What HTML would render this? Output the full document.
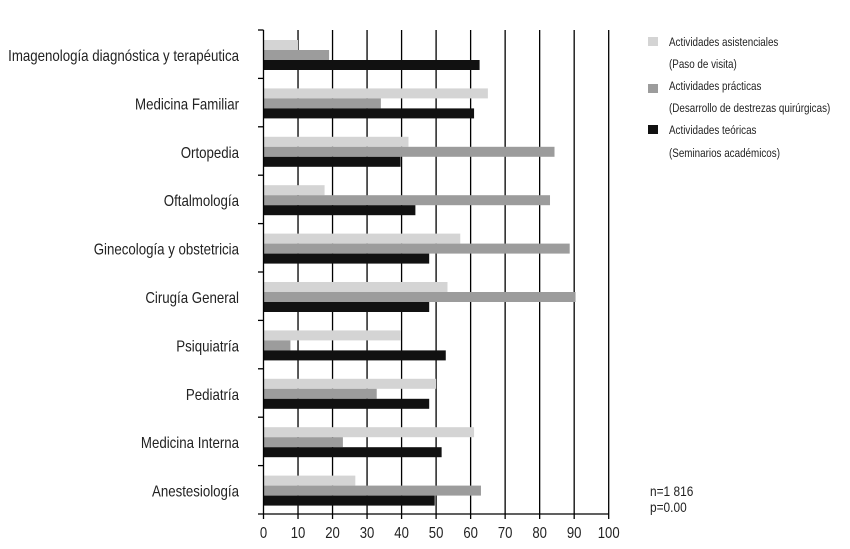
<!DOCTYPE html>
<html><head><meta charset="utf-8"><style>
html,body{margin:0;padding:0;background:#fff;}
svg{display:block;font-family:"Liberation Sans",sans-serif;}
</style></head><body>
<svg width="850" height="549" viewBox="0 0 850 549" xmlns="http://www.w3.org/2000/svg">
<g stroke="#000" stroke-width="1.3" id="grid">
<line x1="258" y1="514" x2="608.5" y2="514"/>
</g>
<g id="bars"></g>
<g stroke="#000" stroke-width="1.3">
<line x1="263.5" y1="30" x2="263.5" y2="514"/>
</g>
<g id="txt" fill="#222"></g>
<g font-size="12" fill="#222">
<rect x="648" y="37" width="10" height="9" fill="#d4d4d4"/>
<rect x="648" y="84" width="10" height="9" fill="#9c9c9c"/>
<rect x="648" y="125" width="10" height="9" fill="#111"/>
<text transform="translate(669,46) scale(0.82,1)">Actividades asistenciales</text>
<text transform="translate(669,68) scale(0.82,1)">(Paso de visita)</text>
<text transform="translate(669,90) scale(0.82,1)">Actividades prácticas</text>
<text transform="translate(669,112) scale(0.82,1)">(Desarrollo de destrezas quirúrgicas)</text>
<text transform="translate(669,134) scale(0.82,1)">Actividades teóricas</text>
<text transform="translate(669,157) scale(0.82,1)">(Seminarios académicos)</text>
</g>
<g font-size="14" fill="#222">
<text transform="translate(650,496) scale(0.85,1)">n=1 816</text>
<text transform="translate(650,512) scale(0.85,1)">p=0.00</text>
</g>
</svg>
<script>
(function(){
var d=[["Imagenología diagnóstica y terapéutica",10,19,62.6],["Medicina Familiar",65,34,61],["Ortopedia",42,84.3,39.7],["Oftalmología",17.7,83,44],["Ginecología y obstetricia",57,88.7,48],["Cirugía General",53.3,90.4,48],["Psiquiatría",39.7,7.8,52.8],["Pediatría",50,32.8,48],["Medicina Interna",61,23,51.6],["Anestesiología",26.6,63,49.6]];
var ns="http://www.w3.org/2000/svg",x0=263.5,s=3.452,y0=30,bh=48.4;
var B=document.getElementById("bars"),G=document.getElementById("grid"),T=document.getElementById("txt");
function el(p,t,a,txt){var e=document.createElementNS(ns,t);for(var k in a)e.setAttribute(k,a[k]);if(txt!=null)e.textContent=txt;p.appendChild(e);return e;}
var cols=["#d4d4d4","#9c9c9c","#111"];
d.forEach(function(r,i){var y=y0+i*bh;
 for(var j=0;j<3;j++)el(B,"rect",{x:x0,y:y+10+j*10,width:r[j+1]*s,height:10,fill:cols[j]});
 el(G,"line",{x1:258,y1:y,x2:263.5,y2:y});
 el(T,"text",{transform:"translate(239,"+(y+31)+") scale(0.83,1)","text-anchor":"end","font-size":"16"},r[0]);
});
for(var v=0;v<=100;v+=10){var x=x0+v*s;
 if(v>0)el(G,"line",{x1:x,y1:y0,x2:x,y2:514});
 el(G,"line",{x1:x,y1:514,x2:x,y2:519});
 el(T,"text",{transform:"translate("+x+",538) scale(0.82,1)","text-anchor":"middle","font-size":"16"},String(v));
}
})();
</script>
</body></html>
